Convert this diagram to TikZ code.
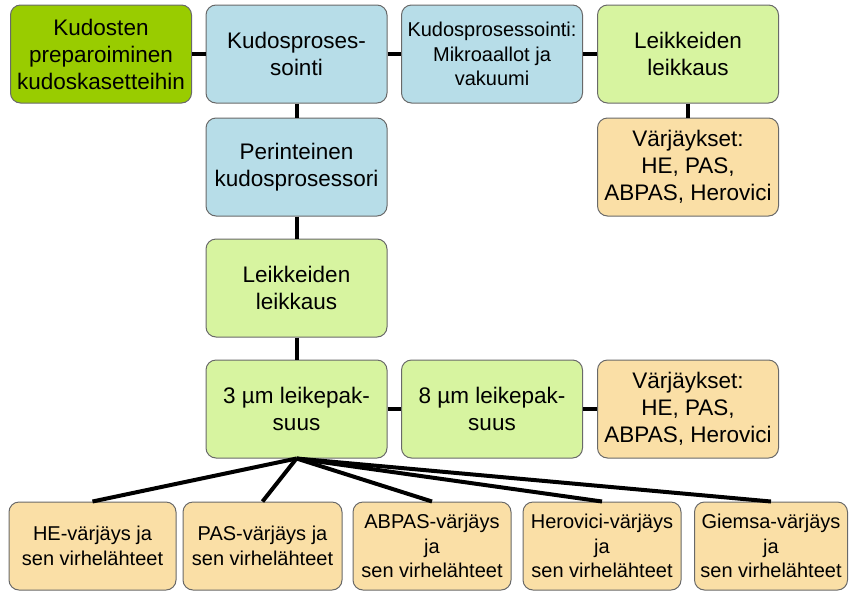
\documentclass[tikz,border=0pt]{standalone}
\usepackage{fontspec}
\setmainfont{Liberation Sans}
\usepackage{xcolor}
\usetikzlibrary{positioning}

\definecolor{tummavihrea}{RGB}{153,204,0}
\definecolor{sininen}{RGB}{183,221,232}
\definecolor{vaaleavihrea}{RGB}{215,244,160}
\definecolor{oranssi}{RGB}{250,223,166}
\definecolor{reuna}{RGB}{105,105,105}

\tikzset{
    laatikko/.style={draw=reuna, line width=1pt, rounded corners=10pt, align=center,
        minimum width=181pt, minimum height=98pt, inner sep=2pt,
        font=\fontsize{22.5}{27}\selectfont},
    alalaatikko/.style={laatikko, minimum height=88pt, fill=oranssi,
        font=\fontsize{20}{24.5}\selectfont},
    yhdys/.style={line width=4pt},
}

\begin{document}
\begin{tikzpicture}[x=1pt, y=-1pt]
    \useasboundingbox (0,0) rectangle (850,592);

    % ylarivi
    \node[laatikko, fill=tummavihrea] (prep) at (101,54) {Kudosten\\preparoiminen\\kudoskasetteihin};
    \node[laatikko, fill=sininen] (proses) at (296.5,54) {Kudosproses-\\sointi};
    \node[laatikko, fill=sininen, font=\fontsize{20}{24.5}\selectfont] (mikro) at (492,54) {Kudosprosessointi:\\Mikroaallot ja\\vakuumi};
    \node[laatikko, fill=vaaleavihrea] (leik1) at (688,54) {Leikkeiden\\leikkaus};

    % toinen rivi
    \node[laatikko, fill=sininen] (perint) at (296.5,167) {Perinteinen\\kudosprosessori};
    \node[laatikko, fill=oranssi] (varj1) at (688,167) {Värjäykset:\\HE, PAS,\\ABPAS, Herovici};

    % leikkaus
    \node[laatikko, fill=vaaleavihrea] (leik2) at (296.5,288) {Leikkeiden\\leikkaus};

    % leikepaksuudet
    \node[laatikko, fill=vaaleavihrea] (paksu3) at (296.5,409) {3 µm leikepak-\\suus};
    \node[laatikko, fill=vaaleavihrea] (paksu8) at (492,409) {8 µm leikepak-\\suus};
    \node[laatikko, fill=oranssi] (varj2) at (688,409) {Värjäykset:\\HE, PAS,\\ABPAS, Herovici};

    % alarivi: varjaykset
    \node[alalaatikko, minimum width=167pt] (he) at (92.5,546) {HE-värjäys ja\\sen virhelähteet};
    \node[alalaatikko, minimum width=159pt] (pas) at (262.5,546) {PAS-värjäys ja\\sen virhelähteet};
    \node[alalaatikko, minimum width=158pt] (abpas) at (432,546) {ABPAS-värjäys\\ja\\sen virhelähteet};
    \node[alalaatikko, minimum width=158pt] (hero) at (602,546) {Herovici-värjäys\\ja\\sen virhelähteet};
    \node[alalaatikko, minimum width=153pt] (giemsa) at (771,546) {Giemsa-värjäys\\ja\\sen virhelähteet};

    % yhdysviivat
    \draw[yhdys] (prep) -- (proses);
    \draw[yhdys] (proses) -- (mikro);
    \draw[yhdys] (mikro) -- (leik1);
    \draw[yhdys] (leik1) -- (varj1);
    \draw[yhdys] (proses) -- (perint);
    \draw[yhdys] (perint) -- (leik2);
    \draw[yhdys] (leik2) -- (paksu3);
    \draw[yhdys] (paksu3) -- (paksu8);
    \draw[yhdys] (paksu8) -- (varj2);
    \foreach \alempi in {he, pas, abpas, hero, giemsa}
        \draw[yhdys] (paksu3.south) -- (\alempi.north);
\end{tikzpicture}
\end{document}
